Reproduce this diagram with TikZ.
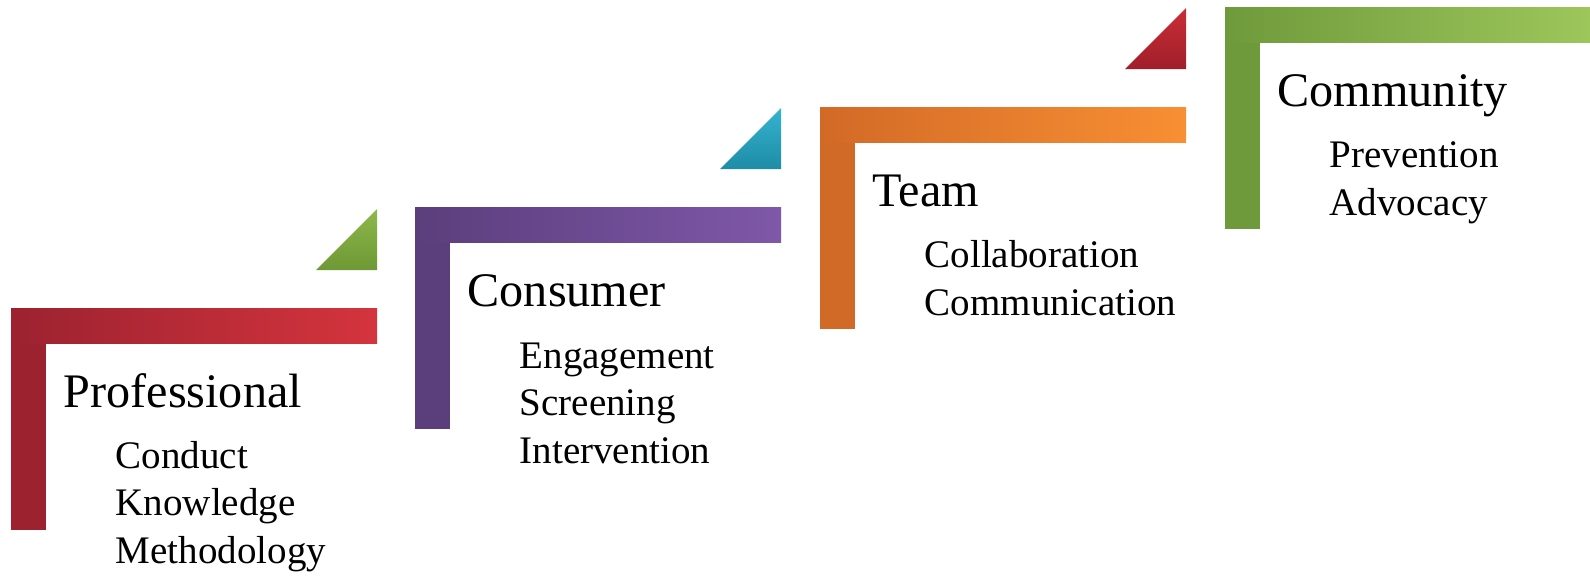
\documentclass[tikz,border=0pt]{standalone}
\usepackage{fontspec}
\setmainfont{Liberation Serif}
\usetikzlibrary{calc}

\definecolor{redDark}{HTML}{9C2230}
\definecolor{redLight}{HTML}{D4343D}
\definecolor{purpleDark}{HTML}{5B3E7C}
\definecolor{purpleLight}{HTML}{7F58A9}
\definecolor{orangeDark}{HTML}{D26A27}
\definecolor{orangeLight}{HTML}{F88F33}
\definecolor{greenDark}{HTML}{6F9A3B}
\definecolor{greenLight}{HTML}{9DC65B}
\definecolor{triGreenTop}{HTML}{8DB84A}
\definecolor{triGreenBot}{HTML}{6E9835}
\definecolor{triTealTop}{HTML}{35B4D0}
\definecolor{triTealBot}{HTML}{1E8CA6}
\definecolor{triRedTop}{HTML}{C92E36}
\definecolor{triRedBot}{HTML}{A01E2A}

\begin{document}
\begin{tikzpicture}[x=0.01cm, y=-0.01cm,
    heading/.style={anchor=base west, inner sep=0pt, font=\fontsize{13.7}{16}\selectfont},
    items/.style={anchor=base west, inner sep=0pt, align=left, font=\fontsize{11.1}{13.5}\selectfont}]
    \useasboundingbox (0,0) rectangle (1590,578);
    % the four steps (\last = baseline of the last item line)
    \foreach \i/\x/\y/\dk/\lt/\head/\last/\sub in {
        1/11/308/redDark/redLight/Professional/255/{Conduct\\Knowledge\\Methodology},
        2/415/207/purpleDark/purpleLight/Consumer/256/{Engagement\\Screening\\Intervention},
        3/820/107/orangeDark/orangeLight/Team/208/{Collaboration\\Communication},
        4/1225/7/greenDark/greenLight/Community/208/{Prevention\\Advocacy}}{
        \fill[\dk] (\x,\y) rectangle ++(35,222);
        \shade[left color=\dk, right color=\lt] (\x,\y) rectangle ++(366,35);
        \node[heading] (head-\i) at (\x+52,\y+99) {\head};
        \node[items] (items-\i) at (\x+104,\y+\last) {\sub};
    }
    % the small corner triangles
    \foreach \x/\y/\tp/\bt in {11/308/triGreenTop/triGreenBot,
        415/207/triTealTop/triTealBot,
        820/107/triRedTop/triRedBot}{
        \shade[top color=\tp, bottom color=\bt] (\x+305,\y-38) -- (\x+366,\y-38) -- (\x+366,\y-99) -- cycle;
    }
\end{tikzpicture}
\end{document}
